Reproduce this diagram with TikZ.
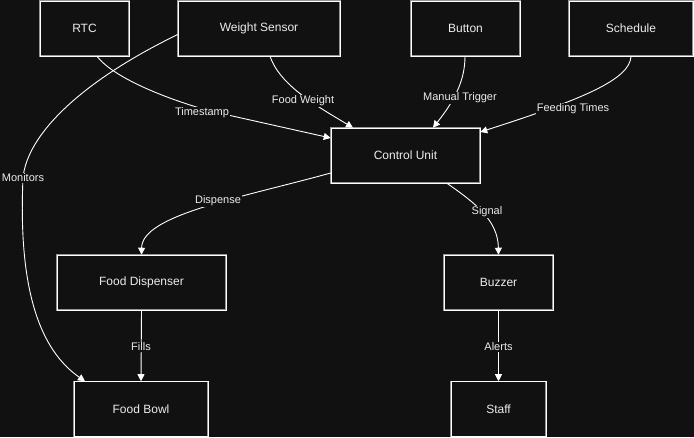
\documentclass[tikz,border=0pt]{standalone}
\usepackage{fontspec}
\setmainfont{Liberation Sans}
\usetikzlibrary{arrows.meta}
\definecolor{bg}{RGB}{17,17,17}
\definecolor{fg}{RGB}{236,236,236}
\definecolor{rim}{RGB}{150,150,150}
\tikzset{
  box/.style={rectangle, draw=rim, double=white, double distance=0.7pt, line width=0.55pt,
    fill=bg, text=fg, font=\fontsize{12}{14}\selectfont, minimum height=55pt, inner sep=0pt},
  lab/.style={fill=bg, text=fg, font=\fontsize{11}{13}\selectfont, inner sep=1pt},
  conn/.style={draw=white, line width=0.9pt, -{Triangle[length=7pt,width=7pt]}},
}
\begin{document}
\begin{tikzpicture}[x=1pt,y=-1pt]
\fill[bg] (0,0) rectangle (694,437);
\useasboundingbox (0,0) rectangle (694,437);
% nodes
\node[box, minimum width=89pt]  (rtc)  at (84.5,28.5)  {RTC};
\node[box, minimum width=162pt] (ws)   at (259,28.5)   {Weight Sensor};
\node[box, minimum width=109pt] (btn)  at (465.5,28.5) {Button};
\node[box, minimum width=124pt] (sch)  at (631,28.5)   {Schedule};
\node[box, minimum width=149pt] (cu)   at (405.5,155.5) {Control Unit};
\node[box, minimum width=169pt] (fd)   at (141.5,282.5) {Food Dispenser};
\node[box, minimum width=109pt] (bz)   at (498.5,282.5) {Buzzer};
\node[box, minimum width=134pt] (fb)   at (141,409)    {Food Bowl};
\node[box, minimum width=95pt]  (st)   at (498.5,409)  {Staff};
% connectors
\draw[conn] ([xshift=12.5pt]rtc.south) .. controls (112,76) and (160,97) .. (210,111) -- ([yshift=17.5pt]cu.west);
\draw[conn] ([xshift=11pt]ws.south) .. controls (280,85) and (315,105) .. ([xshift=-52.5pt]cu.north);
\draw[conn] ([xshift=-0.5pt]btn.south) .. controls (465,80) and (455,100) .. ([xshift=27.5pt]cu.north);
\draw[conn] (sch.south) .. controls (630,80) and (580,100) .. ([yshift=23.5pt]cu.east);
\draw[conn] ([yshift=-17.5pt]cu.west) .. controls (240,198) and (142,215) .. (fd.north);
\draw[conn] ([xshift=41.5pt]cu.south) .. controls (475,203) and (498,220) .. (bz.north);
\draw[conn] (fd.south) -- (fb.north);
\draw[conn] (bz.south) -- (st.north);
\draw[conn] ([yshift=-6pt]ws.west) .. controls (80,82) and (27,135) .. (23,178)
  .. controls (18,290) and (40,350) .. ([xshift=-56pt]fb.north);
% labels
\node[lab] (l1) at (202,113) {Timestamp};
\node[lab] (l2) at (303,101) {Food Weight};
\node[lab] (l3) at (460,98)  {Manual Trigger};
\node[lab] (l4) at (573,109) {Feeding Times};
\node[lab] (l5) at (218,201) {Dispense};
\node[lab] (l6) at (487,212) {Signal};
\node[lab] (l7) at (141,347) {Fills};
\node[lab] (l8) at (498.5,347) {Alerts};
\node[lab] (l9) at (23,178)  {Monitors};
\end{tikzpicture}
\end{document}
